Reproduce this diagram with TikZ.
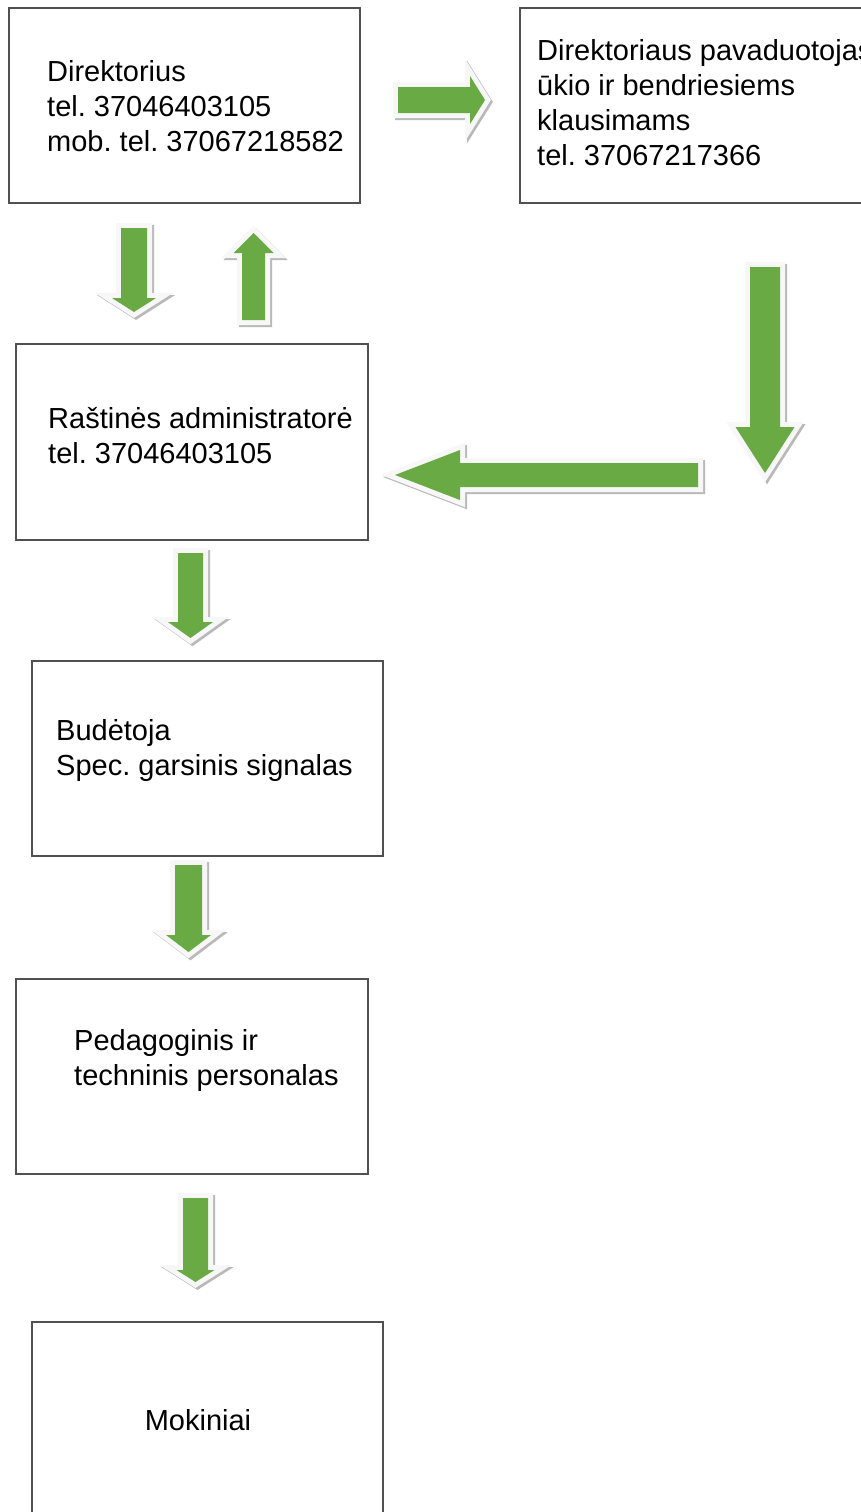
\documentclass[tikz,border=0pt]{standalone}
\usepackage{fontspec}
\setmainfont{Liberation Sans}
\usepackage{tikz}
\definecolor{arrowgreen}{RGB}{106,170,68}
\definecolor{boxgray}{RGB}{80,80,80}
\frenchspacing

% outline of a block arrow pointing along +x: length, shaft, head, head length
\newcommand{\arrowpath}[4]{(0,-#2/2) -- (#1-#4,-#2/2) -- (#1-#4,-#3/2) -- (#1,0) -- (#1-#4,#3/2) -- (#1-#4,#2/2) -- (0,#2/2) -- cycle}

% tail, direction, length, shaft, head, head length
\newcommand{\fatarrow}[6]{%
  \begin{scope}[shift={(2,2)}]
    \begin{scope}[shift={(#1)}, rotate=#2]
      \draw[arrowshadow] \arrowpath{#3}{#4}{#5}{#6};
    \end{scope}
  \end{scope}
  \begin{scope}[shift={(#1)}, rotate=#2]
    \draw[arrowrim] \arrowpath{#3}{#4}{#5}{#6};
    \fill[arrowbody] \arrowpath{#3}{#4}{#5}{#6};
  \end{scope}}

\begin{document}
\begin{tikzpicture}[x=1pt, y=-1pt,
    box/.style={draw=boxgray, line width=1.5pt, fill=white, minimum width=351, minimum height=195, inner sep=0},
    txt/.style={align=left, anchor=west, inner sep=0, font=\fontsize{29}{35}\selectfont},
    arrowbody/.style={fill=arrowgreen},
    arrowrim/.style={draw=white!94!gray, line width=10pt, line join=miter},
    arrowshadow/.style={draw=gray!55, line width=10pt, line join=miter}]

        \useasboundingbox (0,0) rectangle (861,1512);
        \clip (0,0) rectangle (861,1512);
        \fill[white] (0,0) rectangle (861,1512);

        % Boxes
        \node[box] (dir) at (184.5,105.5) {};
        \node[box] (pav) at (695.5,105.5) {};
        \node[box, minimum width=352, minimum height=196] (rast) at (192,442) {};
        \node[box] (bud) at (207.5,758.5) {};
        \node[box, minimum width=352] (ped) at (192,1076.5) {};
        \node[box] (mok) at (207.5,1419.5) {};

        % Texts in the boxes
        \node[txt] (dirtxt) at (47,106) {Direktorius\\tel. 37046403105\\mob. tel. 37067218582};
        \node[txt] (pavtxt) at (537,102.5) {Direktoriaus pavaduotojas\\ūkio ir bendriesiems\\klausimams\\tel. 37067217366};
        \node[txt] (rasttxt) at (48,435.5) {Raštinės administratorė\\tel. 37046403105};
        \node[txt] (budtxt) at (56,750.5) {Budėtoja\\Spec. garsinis signalas};
        \node[txt] (pedtxt) at (74,1060.5) {Pedagoginis ir\\techninis personalas};
        \node[txt, anchor=center] (moktxt) at (198,1420) {Mokiniai};

        % Block arrows
        \fatarrow{398,100}{0}{87}{26}{48}{15}
        \fatarrow{134,228}{-90}{84}{26}{44}{14}
        \fatarrow{253.5,320}{90}{87}{23}{40}{20}
        \fatarrow{765,267}{-90}{206}{30}{59}{46}
        \fatarrow{698,475}{180}{303}{24}{50}{65}
        \fatarrow{190.5,553}{-90}{85}{25}{45}{16}
        \fatarrow{188.5,865}{-90}{87}{27}{45}{17}
        \fatarrow{195.5,1198}{-90}{84}{25}{38}{12}

\end{tikzpicture}
\end{document}
